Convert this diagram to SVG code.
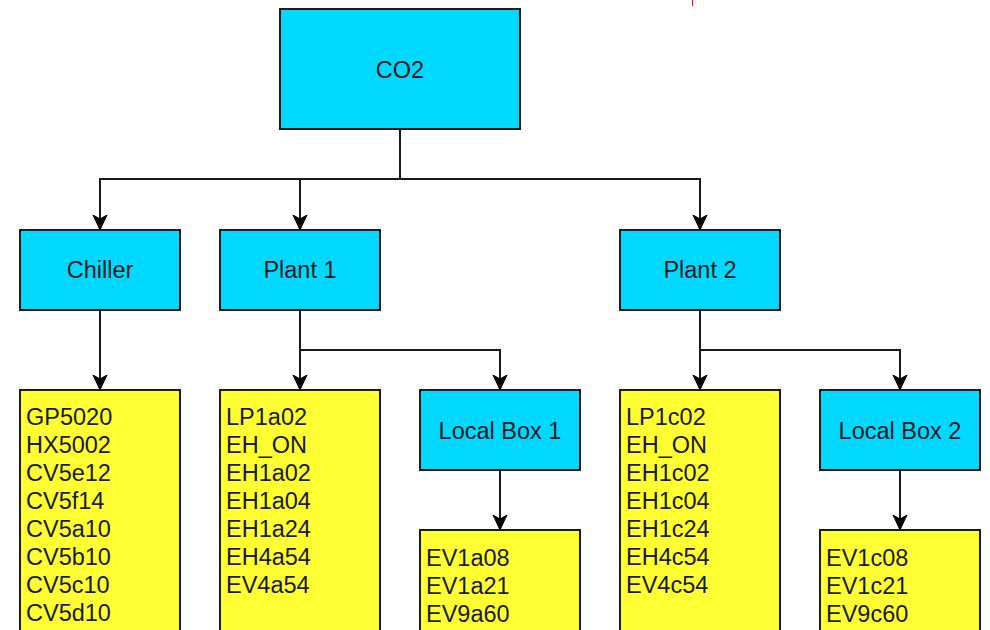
<svg xmlns="http://www.w3.org/2000/svg" width="990" height="630" viewBox="0 0 990 630">
<style>
.blue{fill:#00d8ff;stroke:#1a1a1a;stroke-width:2}
.yel{fill:#ffff33;stroke:#1a1a1a;stroke-width:2}
text{font-family:"Liberation Sans",Arial,sans-serif;font-size:23.5px;fill:#1a1a1a}
.c{text-anchor:middle}
.conn path{fill:none;stroke:#1a1a1a;stroke-width:2;marker-end:url(#arr)}
</style>
<defs>
<marker id="arr" markerUnits="userSpaceOnUse" viewBox="0 0 16 16" refX="14" refY="8" markerWidth="16" markerHeight="16" orient="auto">
<path d="M0,1 L15,8 L0,15 L4,8 Z" fill="#000" stroke="#000" stroke-width="1"/>
</marker>
</defs>
<rect width="990" height="630" fill="#fff"/>
<line x1="692.5" y1="0" x2="692.5" y2="6" stroke="#ff0000" stroke-width="1"/>
<g class="conn">
<path d="M400,130 V179 H100 V229"/>
<path d="M400,130 V179 H300 V229"/>
<path d="M400,130 V179 H700 V229"/>
<path d="M100,310 V389"/>
<path d="M300,310 V389"/>
<path d="M300,310 V350 H500 V389"/>
<path d="M700,310 V389"/>
<path d="M700,310 V350 H900 V389"/>
<path d="M500,470 V529"/>
<path d="M900,470 V529"/>
</g>
<g id="co2"><rect class="blue" x="280" y="9" width="240" height="120"/><text class="c" x="400" y="78">CO2</text></g>
<g id="chiller"><rect class="blue" x="20" y="230" width="160" height="80"/><text class="c" x="100" y="278">Chiller</text></g>
<g id="plant1"><rect class="blue" x="220" y="230" width="160" height="80"/><text class="c" x="300" y="278">Plant 1</text></g>
<g id="plant2"><rect class="blue" x="620" y="230" width="160" height="80"/><text class="c" x="700" y="278">Plant 2</text></g>
<g id="localbox1"><rect class="blue" x="420" y="390" width="160" height="80"/><text class="c" x="500" y="439">Local Box 1</text></g>
<g id="localbox2"><rect class="blue" x="820" y="390" width="160" height="80"/><text class="c" x="900" y="439">Local Box 2</text></g>
<g id="chiller-list"><rect class="yel" x="20" y="390" width="160" height="260"/>
<text x="26" y="425">GP5020</text><text x="26" y="453">HX5002</text><text x="26" y="481">CV5e12</text><text x="26" y="509">CV5f14</text><text x="26" y="537">CV5a10</text><text x="26" y="565">CV5b10</text><text x="26" y="593">CV5c10</text><text x="26" y="621">CV5d10</text></g>
<g id="plant1-list"><rect class="yel" x="220" y="390" width="160" height="260"/>
<text x="226" y="425">LP1a02</text><text x="226" y="453">EH_ON</text><text x="226" y="481">EH1a02</text><text x="226" y="509">EH1a04</text><text x="226" y="537">EH1a24</text><text x="226" y="565">EH4a54</text><text x="226" y="593">EV4a54</text></g>
<g id="plant2-list"><rect class="yel" x="620" y="390" width="160" height="260"/>
<text x="626" y="425">LP1c02</text><text x="626" y="453">EH_ON</text><text x="626" y="481">EH1c02</text><text x="626" y="509">EH1c04</text><text x="626" y="537">EH1c24</text><text x="626" y="565">EH4c54</text><text x="626" y="593">EV4c54</text></g>
<g id="localbox1-list"><rect class="yel" x="420" y="530" width="160" height="120"/>
<text x="426" y="566">EV1a08</text><text x="426" y="594">EV1a21</text><text x="426" y="622">EV9a60</text></g>
<g id="localbox2-list"><rect class="yel" x="820" y="530" width="160" height="120"/>
<text x="826" y="566">EV1c08</text><text x="826" y="594">EV1c21</text><text x="826" y="622">EV9c60</text></g>
</svg>
